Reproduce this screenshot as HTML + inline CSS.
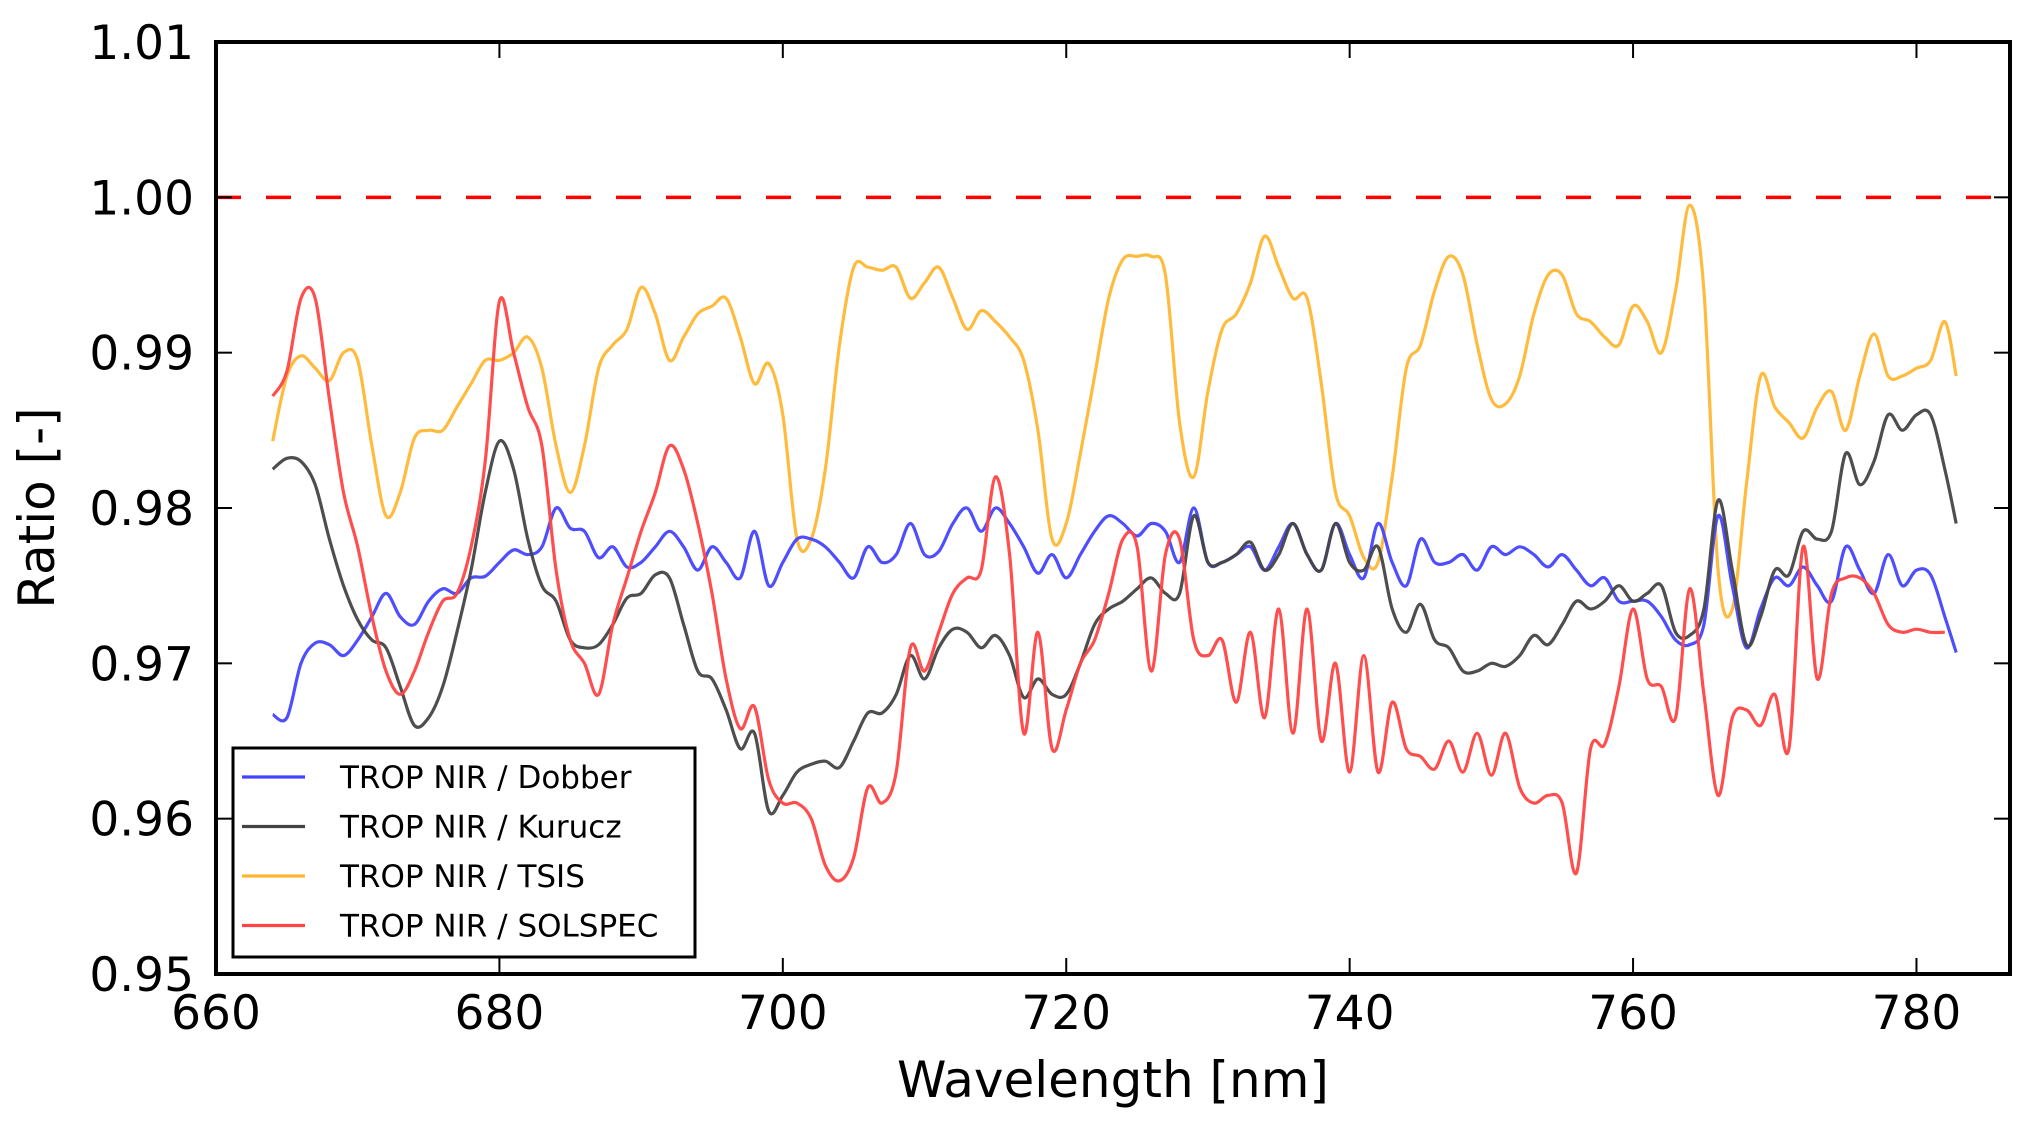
<!DOCTYPE html>
<html><head><meta charset="utf-8"><style>
html,body{margin:0;padding:0;background:#fff;}
svg{display:block;font-family:"DejaVu Sans","Liberation Sans",sans-serif;}
</style></head><body>
<svg id="chart" width="2031" height="1126" viewBox="0 0 2031 1126"></svg>
<script>
const xTicks=[660,680,700,720,740,760,780];
const yTicks=[0.95,0.96,0.97,0.98,0.99,1.00,1.01];
const yTickLabels=["0.95","0.96","0.97","0.98","0.99","1.00","1.01"];
const wavelengths=[];for(let w=664;w<=782;w++)wavelengths.push(w);wavelengths.push(782.8);
const dobber=[0.9667,0.9665,0.970,0.9713,0.9712,0.9705,0.9715,0.973,0.9745,0.973,0.9725,0.974,0.9748,0.9745,0.9755,0.9756,0.9765,0.9773,0.977,0.9775,0.980,0.9787,0.9785,0.9768,0.9775,0.9762,0.9765,0.9775,0.9785,0.9775,0.976,0.9775,0.9765,0.9755,0.9785,0.975,0.9765,0.978,0.978,0.9775,0.9765,0.9755,0.9775,0.9765,0.977,0.979,0.977,0.9772,0.979,0.980,0.9785,0.980,0.979,0.9775,0.9758,0.977,0.9755,0.977,0.9785,0.9795,0.979,0.9782,0.979,0.9785,0.9765,0.980,0.9765,0.9765,0.977,0.9775,0.976,0.9775,0.979,0.977,0.976,0.979,0.977,0.9755,0.979,0.9765,0.975,0.978,0.9765,0.9765,0.977,0.976,0.9775,0.977,0.9775,0.977,0.9762,0.977,0.976,0.975,0.9755,0.974,0.974,0.974,0.973,0.9715,0.9712,0.9725,0.9795,0.975,0.971,0.9735,0.9755,0.975,0.9762,0.975,0.974,0.9775,0.976,0.9745,0.977,0.975,0.976,0.9757,0.973,0.9707];
const kurucz=[0.9825,0.9832,0.983,0.9815,0.978,0.975,0.9728,0.9715,0.971,0.9685,0.966,0.9665,0.9685,0.972,0.976,0.981,0.9843,0.9825,0.978,0.975,0.974,0.9715,0.971,0.9712,0.9725,0.9742,0.9745,0.9757,0.9755,0.9725,0.9695,0.969,0.967,0.9645,0.9655,0.9605,0.9615,0.963,0.9635,0.9637,0.9633,0.965,0.9668,0.9668,0.968,0.9705,0.969,0.971,0.9722,0.972,0.971,0.9718,0.9705,0.9678,0.969,0.968,0.968,0.970,0.9725,0.9735,0.974,0.9748,0.9755,0.9745,0.9745,0.9795,0.9765,0.9765,0.977,0.9778,0.976,0.977,0.979,0.977,0.976,0.979,0.9765,0.976,0.9775,0.9735,0.972,0.9738,0.9715,0.971,0.9695,0.9695,0.970,0.9698,0.9705,0.9718,0.9712,0.9725,0.974,0.9735,0.974,0.975,0.974,0.9745,0.975,0.972,0.9718,0.9735,0.9805,0.976,0.9712,0.973,0.976,0.9757,0.9785,0.978,0.9785,0.9835,0.9815,0.983,0.986,0.985,0.986,0.986,0.9825,0.979];
const tsis=[0.9843,0.9885,0.9898,0.989,0.9882,0.990,0.9895,0.984,0.9795,0.981,0.9845,0.985,0.985,0.9865,0.988,0.9895,0.9895,0.990,0.991,0.989,0.984,0.981,0.984,0.989,0.9905,0.9915,0.9942,0.9925,0.9895,0.991,0.9925,0.993,0.9935,0.991,0.988,0.9893,0.986,0.978,0.978,0.9825,0.9905,0.9955,0.9955,0.9953,0.9955,0.9935,0.9945,0.9955,0.9935,0.9915,0.9927,0.992,0.991,0.9895,0.985,0.978,0.979,0.9835,0.9885,0.9935,0.996,0.9962,0.9962,0.995,0.9855,0.982,0.9875,0.9915,0.9925,0.9945,0.9975,0.9955,0.9935,0.9935,0.988,0.981,0.9795,0.9768,0.9765,0.982,0.989,0.9905,0.994,0.9962,0.995,0.9905,0.987,0.9867,0.9885,0.9925,0.995,0.995,0.9925,0.992,0.991,0.9905,0.993,0.992,0.990,0.994,0.9995,0.994,0.976,0.9735,0.9815,0.9885,0.9865,0.9855,0.9845,0.9865,0.9875,0.985,0.9885,0.9912,0.9885,0.9885,0.989,0.9895,0.992,0.9885];
const solspec=[0.9872,0.9888,0.9935,0.9935,0.987,0.981,0.9775,0.973,0.9695,0.968,0.9695,0.972,0.974,0.9745,0.9775,0.983,0.9933,0.990,0.9865,0.984,0.976,0.9715,0.970,0.968,0.9725,0.9755,0.9785,0.981,0.984,0.9825,0.979,0.9745,0.969,0.9658,0.9672,0.9625,0.961,0.961,0.960,0.957,0.956,0.9575,0.962,0.961,0.963,0.971,0.9695,0.972,0.9745,0.9755,0.976,0.982,0.977,0.9655,0.972,0.9645,0.967,0.970,0.9715,0.9745,0.978,0.9775,0.9695,0.977,0.978,0.9715,0.9705,0.9715,0.9675,0.972,0.9665,0.9735,0.9655,0.9735,0.965,0.970,0.963,0.9705,0.963,0.9675,0.9645,0.964,0.9632,0.965,0.963,0.9655,0.9628,0.9655,0.962,0.961,0.9615,0.961,0.9565,0.9645,0.9648,0.9685,0.9735,0.969,0.9685,0.9665,0.9748,0.968,0.9615,0.9665,0.967,0.966,0.968,0.9645,0.9775,0.969,0.9745,0.9755,0.9755,0.9745,0.9725,0.972,0.9722,0.972,0.972];
const seriesNames=["TROP NIR / Dobber","TROP NIR / Kurucz","TROP NIR / TSIS","TROP NIR / SOLSPEC"];
const seriesColors=["#4444ff","#444444","#ffb733","#ff4444"];
const L=216,R=2010,T=42,B=974,X0=660,X1=786.6,Y0=0.95,Y1=1.01;
const sx=v=>L+(v-X0)/(X1-X0)*(R-L);
const sy=v=>B-(v-Y0)/(Y1-Y0)*(B-T);
const NS="http://www.w3.org/2000/svg";
const svg=document.getElementById('chart');
function mk(t,a,p){const e=document.createElementNS(NS,t);for(const k in a)e.setAttribute(k,a[k]);(p||svg).appendChild(e);return e;}
const ref=mk('line',{x1:L,x2:R,y1:sy(1.0),y2:sy(1.0),stroke:'#ff0000','stroke-width':3.5,'stroke-dasharray':'25 25'});


function smooth(xs,ys){let pts=xs.map((x,i)=>[sx(x),sy(ys[i])]);let d='M'+pts[0][0].toFixed(1)+','+pts[0][1].toFixed(1);
for(let i=0;i<pts.length-1;i++){const p0=pts[Math.max(0,i-1)],p1=pts[i],p2=pts[i+1],p3=pts[Math.min(pts.length-1,i+2)];
const c1=[p1[0]+(p2[0]-p0[0])/6,p1[1]+(p2[1]-p0[1])/6],c2=[p2[0]-(p3[0]-p1[0])/6,p2[1]-(p3[1]-p1[1])/6];
d+='C'+c1.map(v=>v.toFixed(1)).join(',')+' '+c2.map(v=>v.toFixed(1)).join(',')+' '+p2.map(v=>v.toFixed(1)).join(',');}return d;}
const allSeries=[dobber,kurucz,tsis,solspec];
const ids=['series-dobber','series-kurucz','series-tsis','series-solspec'];
const drawOrder=[2,0,1,3];
drawOrder.forEach(i=>{const vals=allSeries[i].slice(0,wavelengths.length);const xs=wavelengths.slice(0,vals.length);
const p=mk('path',{d:smooth(xs,vals),fill:'none',stroke:seriesColors[i],'stroke-width':3.2,'stroke-opacity':0.95,'stroke-linejoin':'round'});

});
const fr=mk('rect',{x:L,y:T,width:R-L,height:B-T,fill:'none',stroke:'#000','stroke-width':4});


xTicks.forEach(v=>{const x=sx(v);
mk('line',{x1:x,x2:x,y1:B,y2:B-16,stroke:'#000','stroke-width':2});
mk('line',{x1:x,x2:x,y1:T,y2:T+16,stroke:'#000','stroke-width':2});
const t=mk('text',{x:x,y:1029,'font-size':47,'text-anchor':'middle'});t.textContent=v;

});
yTicks.forEach((v,i)=>{const y=sy(v);
mk('line',{x1:L,x2:L+16,y1:y,y2:y,stroke:'#000','stroke-width':2});
mk('line',{x1:R,x2:R-16,y1:y,y2:y,stroke:'#000','stroke-width':2});
const t=mk('text',{x:194,y:y+17,'font-size':47,'text-anchor':'end'});t.textContent=yTickLabels[i];

});
const xt=mk('text',{x:1113,y:1097,'font-size':50,'text-anchor':'middle'});xt.textContent='Wavelength [nm]';


const yt=mk('text',{x:0,y:0,'font-size':50,'text-anchor':'middle',transform:'translate(54,508) rotate(-90)'});yt.textContent='Ratio [-]';


const lg=mk('g',{});


mk('rect',{x:233,y:748,width:462,height:209,fill:'#fff',stroke:'#000','stroke-width':3},lg);
seriesNames.forEach((n,i)=>{const y=777+i*49.5;
const ln=mk('line',{x1:242,x2:305,y1:y,y2:y,stroke:seriesColors[i],'stroke-width':3.2},lg);


const t=mk('text',{x:340,y:y+11,'font-size':31},lg);t.textContent=n;

});
</script>
</body></html>
